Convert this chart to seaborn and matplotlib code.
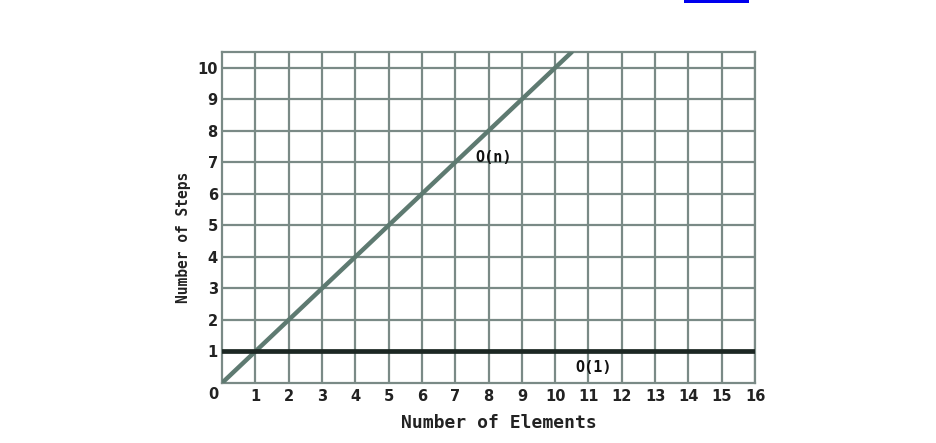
import pandas as pd
import matplotlib.pyplot as plt
from matplotlib.patches import Rectangle
import seaborn as sns

# series
elements = [0, 10.5]
steps_linear = [0, 10.5]
elements_const = [0, 16]
steps_const = [1, 1]

x_ticks = list(range(1, 17))
y_ticks = list(range(1, 11))

sns.set_theme(style='white')
plt.rcParams['font.family'] = ['DejaVu Sans']

fig = plt.figure(figsize=(9.37, 4.43), dpi=100)
ax = fig.add_axes([0.2369, 0.1354, 0.5689, 0.7472])

grid_color = '#7a8a86'

linear_df = pd.DataFrame({'Elements': elements, 'Steps': steps_linear})
const_df = pd.DataFrame({'Elements': elements_const, 'Steps': steps_const})

sns.lineplot(data=linear_df, x='Elements', y='Steps', color='#5e7a71',
             linewidth=3.2, ax=ax, zorder=3)
sns.lineplot(data=const_df, x='Elements', y='Steps', color='#1c2723',
             linewidth=3.4, ax=ax, zorder=4)

ax.set_xlim(0, 16)
ax.set_ylim(0, 10.5)
ax.set_xticks(x_ticks)
ax.set_yticks(y_ticks)
ax.set_xticklabels([str(t) for t in x_ticks], fontsize=10.5, fontweight='bold', color='#222222')
ax.set_yticklabels([str(t) for t in y_ticks], fontsize=10.5, fontweight='bold', color='#222222')
ax.tick_params(axis='both', length=0)
ax.tick_params(axis='x', pad=4)
ax.tick_params(axis='y', pad=3)

ax.grid(True, color=grid_color, linewidth=1.6)
ax.set_axisbelow(True)
for s in ax.spines.values():
    s.set_color(grid_color)
    s.set_linewidth(1.6)

ax.text(-0.27, -0.37, '0', ha='center', va='center', fontsize=10.5,
        fontweight='bold', color='#222222')

ax.set_xlabel('Number of Elements', family='DejaVu Sans Mono', fontsize=13,
              fontweight='semibold', color='#222222')
ax.set_ylabel('Number of Steps', family='DejaVu Sans Mono', fontsize=10.5,
              fontweight='semibold', color='#222222')
ax.xaxis.set_label_coords(0.519, -0.093)
ax.yaxis.set_label_coords(-0.058, 0.44)

ax.text(7.6, 7.15, 'O(n)', family='DejaVu Sans Mono', fontsize=11,
        fontweight='bold', color='#111111', va='center', ha='left')
ax.text(10.6, 0.48, 'O(1)', family='DejaVu Sans Mono', fontsize=11,
        fontweight='bold', color='#111111', va='center', ha='left')

# blue bar at the top edge of the picture
fig.add_artist(Rectangle((684 / 937, 1 - 3 / 443), 65 / 937, 3 / 443,
                         transform=fig.transFigure, color='#0000ee', lw=0))

fig.savefig('out.png', dpi=100)
